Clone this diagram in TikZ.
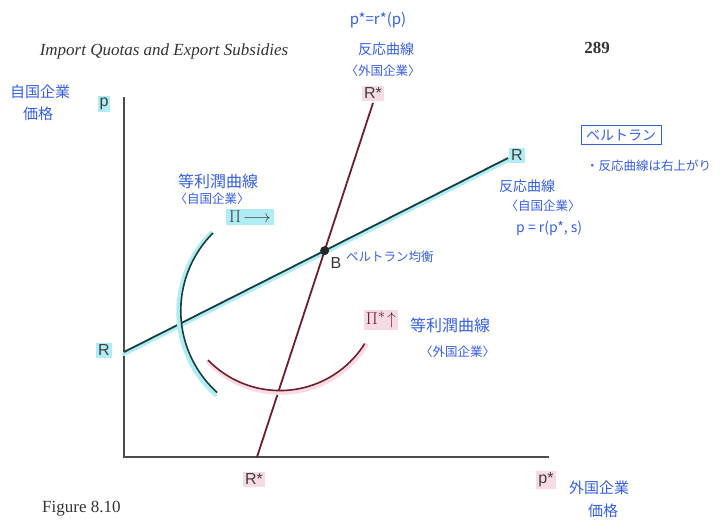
\documentclass[tikz,border=0pt]{standalone}
\usepackage{fontspec}
\setmainfont{Liberation Serif}
\setsansfont{Liberation Sans}
\newfontfamily\jpfont{Noto Sans CJK JP}
\usetikzlibrary{positioning, calc}

\definecolor{inkblue}{RGB}{55,95,220}
\definecolor{hlcyan}{RGB}{175,236,244}
\definecolor{hlpink}{RGB}{248,218,228}
\definecolor{homeline}{RGB}{25,62,62}
\definecolor{foreignline}{RGB}{105,32,45}

\tikzset{
  booktext/.style={text=black!80, inner sep=0pt},
  hand/.style={text=inkblue, inner sep=0pt, font=\jpfont\fontsize{14}{16}\selectfont},
  bighand/.style={hand, font=\jpfont\fontsize{16}{18}\selectfont},
  smallhand/.style={hand, font=\jpfont\fontsize{12.5}{14}\selectfont},
  cyantag/.style={fill=hlcyan, inner sep=2pt, text=black!75,
                  font=\sffamily\fontsize{16}{18}\selectfont},
  pinktag/.style={fill=hlpink, inner sep=2pt, text=black!75,
                  font=\sffamily\fontsize{16}{18}\selectfont},
  axisline/.style={draw=black!70, line width=1.2pt},
}

\begin{document}
\begin{tikzpicture}[x=1pt, y=-1pt,
  reaction/.style={line width=1.8pt},
  glow/.style={line width=4pt, line cap=round},
  isoprofit/.style={line width=1.6pt}
]
  \useasboundingbox (0,0) rectangle (727,520);

  % printed page
  \node (head) [booktext, font=\itshape\fontsize{17}{19}\selectfont] at (164,51) {Import Quotas and Export Subsidies};
  \node (page) [booktext, font=\bfseries\fontsize{17}{19}\selectfont] at (597,48) {289};
  \node (fig) [booktext, anchor=west, font=\fontsize{17}{19}\selectfont] at (42,509) {Figure 8.10};

  % axes
  \coordinate (O) at (124,457);
  \coordinate (ytop) at (124,97);
  \coordinate (xend) at (549,457);
  \draw[axisline] (ytop) -- (O) -- (xend);

  % reaction curves
  \coordinate (Rl) at (124,352);
  \coordinate (Rr) at (508,158);
  \coordinate (Sb) at (257,457);
  \coordinate (St) at (373,103);
  \draw[glow, hlcyan] ([yshift=-2pt]Rl) -- ([yshift=-2pt]Rr);
  \draw[reaction, homeline] (Rl) -- (Rr);
  \draw[reaction, foreignline] (Sb) -- (St);
  \coordinate (B) at (intersection of Rl--Rr and Sb--St);
  \fill[black!85] (B) circle (4.5);

  % iso-profit curves
  \coordinate (hA) at (213,233);
  \coordinate (fA) at (208,360);
  \draw[glow, hlcyan] ([xshift=-2pt]hA) arc[start angle=225, end angle=132, radius=111.5];
  \draw[isoprofit, homeline] (hA) arc[start angle=225, end angle=132, radius=110];
  \draw[glow, hlpink] ([yshift=-2pt]fA) arc[start angle=136, end angle=32, radius=101];
  \draw[isoprofit, foreignline] (fA) arc[start angle=136, end angle=32, radius=100];

  % axis and curve labels
  \node (plab) [cyantag] at (104,104) {p};
  \node (Rleft) [cyantag] at (104,350) {R};
  \node (Rright) [cyantag] at (517,155) {R};
  \node (Stop) [pinktag] at (373,93) {R*};
  \node (Sbot) [pinktag] at (254,479) {R*};
  \node (pstar) [pinktag] at (546,480) {p*};
  \node (Blab) [booktext, font=\sffamily\fontsize{16}{18}\selectfont] at (336,263) {B};
  \node (Pi) [cyantag, font=\fontsize{19}{21}\selectfont, inner xsep=3pt] at (250,217) {$\Pi\!\longrightarrow$};
  \node (Pistar) [pinktag, font=\fontsize{19}{21}\selectfont, text=foreignline] at (381,320) {$\Pi^{*}\!\uparrow$};

  % handwritten notes
  \node (hp1) [hand, font=\jpfont\fontsize{15}{17}\selectfont] at (40,92) {自国企業};
  \node (hp2) [hand, font=\jpfont\fontsize{15}{17}\selectfont] at (38,114) {価格};
  \node (fr1) [hand, font=\jpfont\fontsize{15}{17}\selectfont] at (378,20) {p*=r*(p)};
  \node (fr2) [hand] at (386,49) {反応曲線};
  \node (fr3) [smallhand] at (383,71) {〈外国企業〉};
  \node (bert) [hand, draw=inkblue, line width=1pt, inner xsep=5pt, inner ysep=4pt] at (621,135) {ベルトラン};
  \node (bertnote) [smallhand, anchor=west] at (586,166) {・反応曲線は右上がり};
  \node (hr1) [hand] at (527,186) {反応曲線};
  \node (hr2) [smallhand] at (543,206) {〈自国企業〉};
  \node (hr3) [hand, anchor=west] at (516,228) {p = r(p*, s)};
  \node (hi1) [bighand] at (218,181) {等利潤曲線};
  \node (hi2) [smallhand] at (212,199) {〈自国企業〉};
  \node (beq) [smallhand, anchor=west] at (346,257) {ベルトラン均衡};
  \node (fi1) [bighand, anchor=west] at (410,325) {等利潤曲線};
  \node (fi2) [smallhand, anchor=west] at (420,352) {〈外国企業〉};
  \node (xp1) [hand, font=\jpfont\fontsize{15}{17}\selectfont] at (599,488) {外国企業};
  \node (xp2) [hand, font=\jpfont\fontsize{15}{17}\selectfont] at (603,511) {価格};
\end{tikzpicture}
\end{document}
